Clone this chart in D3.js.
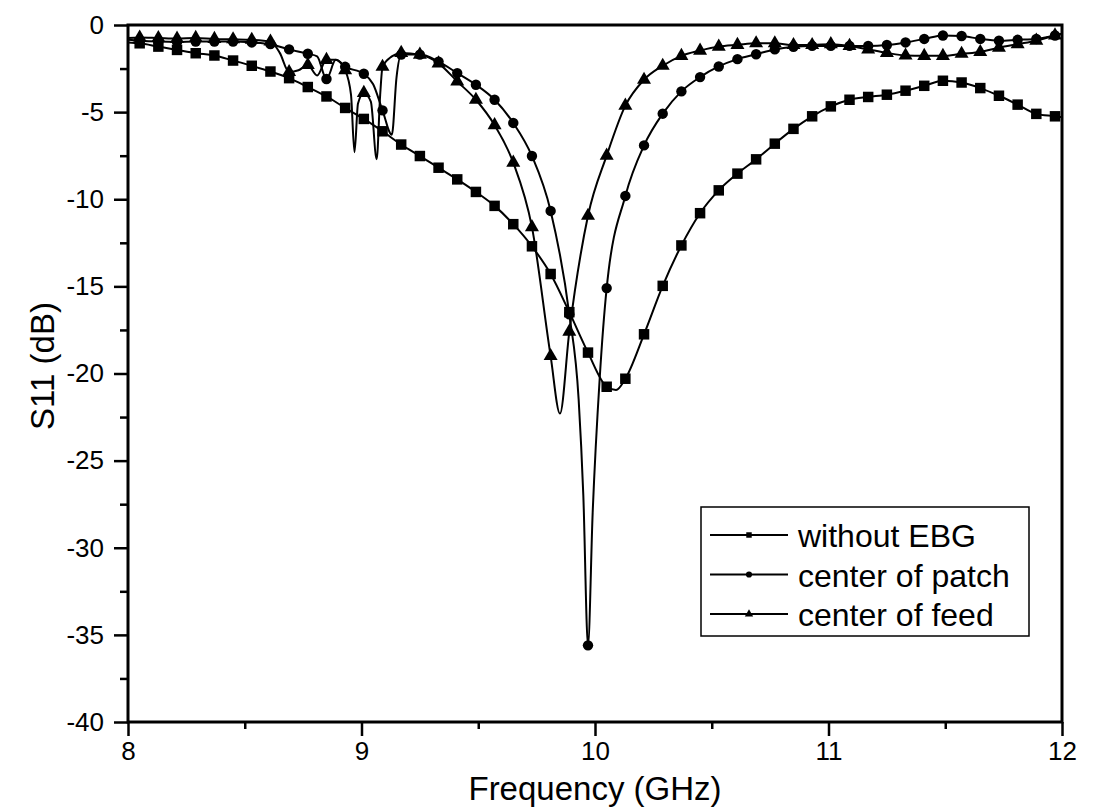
<!DOCTYPE html>
<html>
<head>
<meta charset="utf-8">
<script src="https://cdnjs.cloudflare.com/ajax/libs/d3/7.8.5/d3.min.js"></script>
<style>
  body { margin: 0; background: #fff; }
  text { font-family: Arial, "Liberation Sans", sans-serif; fill: #000; }
</style>
</head>
<body>
<div id="chart"></div>
<script>
// S11 curves (GHz, dB)
var noEbgFreq = [8.00, 8.05, 8.13, 8.21, 8.29, 8.37, 8.45, 8.53, 8.61, 8.69,
  8.77, 8.85, 8.93, 9.01, 9.09, 9.17, 9.25, 9.33, 9.41, 9.49,
  9.57, 9.65, 9.73, 9.81, 9.89, 9.97, 10.05, 10.09, 10.13, 10.21,
  10.29, 10.37, 10.45, 10.53, 10.61, 10.69, 10.77, 10.85, 10.93, 11.01,
  11.09, 11.17, 11.25, 11.33, 11.41, 11.49, 11.57, 11.65, 11.73, 11.81,
  11.89, 11.97, 12.00];
var noEbgDb = [-1.0, -1.05, -1.24, -1.43, -1.62, -1.75, -2.04, -2.34, -2.67, -3.05,
  -3.56, -4.1, -4.76, -5.39, -6.1, -6.86, -7.52, -8.19, -8.86, -9.58,
  -10.38, -11.43, -12.7, -14.29, -16.48, -18.8, -20.76, -20.95, -20.3, -17.75,
  -14.97, -12.65, -10.8, -9.49, -8.53, -7.71, -6.81, -5.96, -5.24, -4.67,
  -4.29, -4.13, -4.0, -3.77, -3.49, -3.2, -3.3, -3.62, -4.06, -4.57,
  -5.1, -5.24, -5.3];

var patchFreq = [8.00, 8.05, 8.13, 8.21, 8.29, 8.37, 8.45, 8.53, 8.61, 8.69,
  8.77, 8.81, 8.85, 8.89, 8.93, 9.01, 9.05, 9.09, 9.13, 9.15,
  9.17, 9.25, 9.33, 9.41, 9.49, 9.57, 9.65, 9.73, 9.81, 9.89,
  9.93, 9.95, 9.97, 9.99, 10.02, 10.05, 10.13, 10.21, 10.29, 10.37,
  10.45, 10.53, 10.61, 10.69, 10.77, 10.85, 10.93, 11.01, 11.09, 11.17,
  11.25, 11.33, 11.41, 11.49, 11.57, 11.65, 11.73, 11.81, 11.89, 11.97,
  12.00];
var patchDb = [-0.85, -0.9, -0.95, -0.97, -0.95, -0.95, -0.95, -1.0, -1.1, -1.4,
  -1.65, -1.8, -3.1, -2.0, -2.4, -2.8, -3.4, -4.9, -6.3, -3.0,
  -1.7, -1.7, -2.1, -2.76, -3.43, -4.29, -5.62, -7.52, -10.67, -16.6,
  -21.5, -27, -35.6, -28, -20.3, -15.1, -9.81, -6.91, -5.09, -3.81,
  -2.99, -2.38, -1.96, -1.68, -1.4, -1.25, -1.2, -1.2, -1.2, -1.2,
  -1.15, -1.0, -0.8, -0.6, -0.63, -0.8, -0.9, -0.85, -0.8, -0.6,
  -0.5];

var feedFreq = [8.00, 8.05, 8.13, 8.21, 8.29, 8.37, 8.45, 8.53, 8.61,
  8.65, 8.69, 8.73, 8.77, 8.81, 8.85, 8.89, 8.93,
  8.955, 8.97, 8.985, 9.01, 9.04, 9.065, 9.08, 9.09,
  9.13, 9.17, 9.25, 9.33, 9.41, 9.49, 9.57, 9.65, 9.73, 9.81,
  9.85, 9.89, 9.97, 10.05, 10.13, 10.21, 10.29, 10.37, 10.45, 10.53,
  10.61, 10.69, 10.77, 10.85, 10.93, 11.01, 11.09, 11.17, 11.25, 11.33,
  11.41, 11.49, 11.57, 11.65, 11.73, 11.81, 11.89, 11.97, 12.00];
var feedDb = [-0.75, -0.72, -0.75, -0.78, -0.74, -0.8, -0.82, -0.85, -0.95,
  -1.6, -2.7, -2.6, -2.3, -2.9, -2.0, -2.0, -2.6,
  -4.0, -7.3, -4.5, -3.9, -4.4, -7.7, -4.0, -2.4,
  -1.8, -1.6, -1.7, -2.2, -3.24, -4.29, -5.75, -7.9, -11.6, -19.0,
  -22.3, -17.6, -10.95, -7.5, -4.63, -3.14, -2.34, -1.77, -1.47, -1.24,
  -1.14, -1.05, -1.05, -1.15, -1.15, -1.1, -1.2, -1.4, -1.6, -1.75,
  -1.77, -1.77, -1.65, -1.55, -1.3, -1.1, -0.9, -0.6, -0.5];

var seriesNames = ["without EBG", "center of patch", "center of feed"];
var xTicks = [8, 9, 10, 11, 12];
var yTicks = [0, -5, -10, -15, -20, -25, -30, -35, -40];

var svgWidth = 1094;
var svgHeight = 811;
var margin = { top: 25, right: 32, bottom: 89, left: 128 };
var width = svgWidth - margin.left - margin.right;
var height = svgHeight - margin.top - margin.bottom;

// markers sit every 0.08 GHz starting at 8.05
var markStart = 8.05;
var markStep = 0.08;

var svg = d3.select("#chart")
  .append("svg")
  .attr("width", svgWidth)
  .attr("height", svgHeight);

var chart = svg.append("g")
  .attr("transform", "translate(" + margin.left + "," + margin.top + ")");

var xScale = d3.scaleLinear().domain([8, 12]).range([0, width]);
var yScale = d3.scaleLinear().domain([-40, 0]).range([height, 0]);

// plain hyphen minus like the scan
var plainFormat = function(d) { return String(d); };

// minor ticks
chart.append("g")
  .attr("transform", "translate(0," + height + ")")
  .call(d3.axisBottom(xScale).tickValues([8.5, 9.5, 10.5, 11.5]).tickSize(7).tickFormat(""));
chart.append("g")
  .call(d3.axisLeft(yScale).tickValues([-2.5, -7.5, -12.5, -17.5, -22.5, -27.5, -32.5, -37.5]).tickSize(8).tickFormat(""));

// major ticks
var xAxis = chart.append("g")
  .attr("transform", "translate(0," + height + ")")
  .call(d3.axisBottom(xScale).tickValues(xTicks).tickSize(14).tickPadding(6).tickFormat(plainFormat));
var yAxis = chart.append("g")
  .call(d3.axisLeft(yScale).tickValues(yTicks).tickSize(14).tickPadding(10).tickFormat(plainFormat));

svg.selectAll(".domain").remove();
svg.selectAll(".tick line").attr("stroke", "#000").attr("stroke-width", 2.5);
xAxis.selectAll("text").attr("font-size", 26).attr("fill", "#000");
yAxis.selectAll("text").attr("font-size", 26).attr("fill", "#000");

// frame
chart.append("rect")
  .attr("width", width)
  .attr("height", height)
  .attr("fill", "none")
  .attr("stroke", "#000")
  .attr("stroke-width", 3);

// axis titles
svg.append("text")
  .attr("x", margin.left + xScale(10))
  .attr("y", 800)
  .attr("text-anchor", "middle")
  .attr("font-size", 33)
  .text("Frequency (GHz)");

svg.append("text")
  .attr("transform", "translate(54," + 366 + ") rotate(-90)")
  .attr("text-anchor", "middle")
  .attr("font-size", 33)
  .text("S11 (dB)");

function zipSeries(freq, db) {
  return freq.map(function(f, i) { return { f: f, v: db[i] }; });
}

var allSeries = [
  { name: seriesNames[0], data: zipSeries(noEbgFreq, noEbgDb), symbol: d3.symbolSquare, size: 110 },
  { name: seriesNames[1], data: zipSeries(patchFreq, patchDb), symbol: d3.symbolCircle, size: 85 },
  { name: seriesNames[2], data: zipSeries(feedFreq, feedDb), symbol: d3.symbolTriangle, size: 85 }
];

function onMarkGrid(f) {
  var k = (f - markStart) / markStep;
  return k > -0.01 && Math.abs(k - Math.round(k)) < 0.02;
}

var line = d3.line()
  .x(function(d) { return xScale(d.f); })
  .y(function(d) { return yScale(d.v); })
  .curve(d3.curveMonotoneX);

allSeries.forEach(function(s) {
  chart.append("path")
    .datum(s.data)
    .attr("d", line)
    .attr("fill", "none")
    .attr("stroke", "#000")
    .attr("stroke-width", 2);

  chart.selectAll(null)
    .data(s.data.filter(function(d) { return onMarkGrid(d.f); }))
    .enter()
    .append("path")
    .attr("d", d3.symbol().type(s.symbol).size(s.size))
    .attr("transform", function(d) {
      return "translate(" + xScale(d.f) + "," + yScale(d.v) + ")";
    })
    .attr("fill", "#000");
});

// legend
var legend = svg.append("g").attr("transform", "translate(701,507)");
legend.append("rect")
  .attr("width", 328)
  .attr("height", 129)
  .attr("fill", "#fff")
  .attr("stroke", "#000")
  .attr("stroke-width", 1.5);

allSeries.forEach(function(s, i) {
  var cy = 28 + i * 39.5;
  legend.append("line")
    .attr("x1", 9).attr("x2", 87)
    .attr("y1", cy).attr("y2", cy)
    .attr("stroke", "#000")
    .attr("stroke-width", 2);
  legend.append("path")
    .attr("d", d3.symbol().type(s.symbol).size(30))
    .attr("transform", "translate(48," + cy + ")")
    .attr("fill", "#000");
  legend.append("text")
    .attr("x", 97)
    .attr("y", cy + 12)
    .attr("font-size", 32)
    .text(s.name);
});
</script>
</body>
</html>
